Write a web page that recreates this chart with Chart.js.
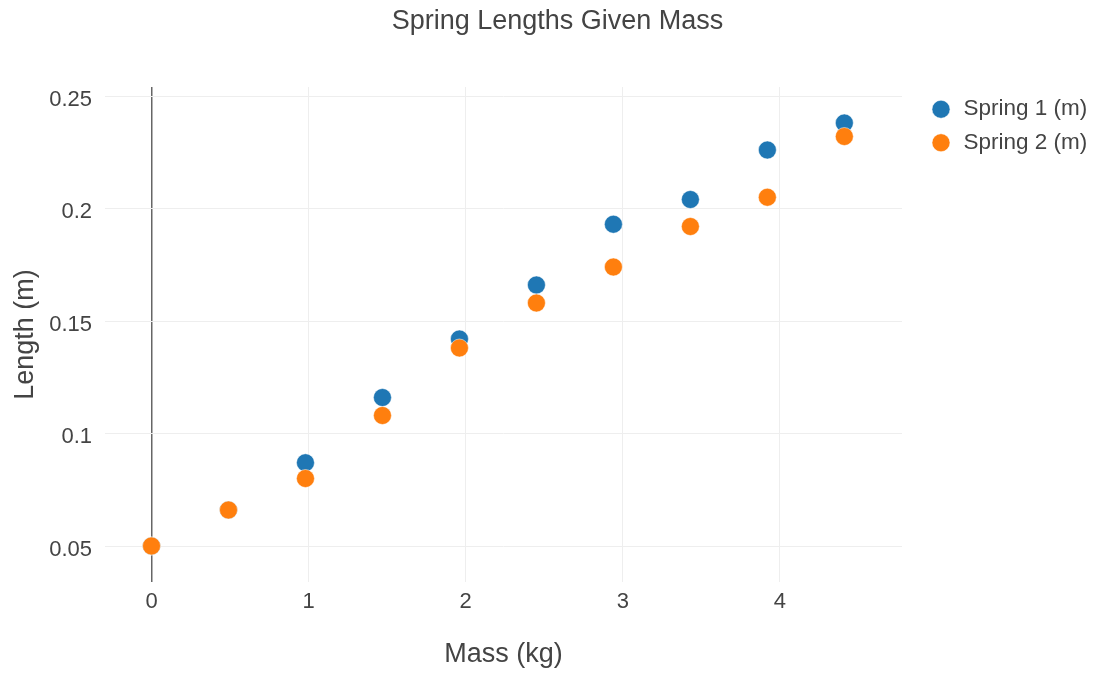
<!DOCTYPE html>
<html>
<head>
<meta charset="utf-8">
<title>Spring Lengths Given Mass</title>
<script src="https://cdn.jsdelivr.net/npm/chart.js@4/dist/chart.umd.min.js"></script>
<style>
  html, body { margin: 0; padding: 0; background: #fff; }
  canvas { display: block; }
</style>
</head>
<body>
<canvas id="springs" width="1095" height="675"></canvas>
<script>
// mass (kg) and the two measured lengths (m)
const masses = [0, 0.49, 0.98, 1.47, 1.96, 2.45, 2.94, 3.43, 3.92, 4.41]
const spring1 = [0.05, 0.066, 0.087, 0.116, 0.142, 0.166, 0.193, 0.204, 0.226, 0.238]
const spring2 = [0.05, 0.066, 0.080, 0.108, 0.138, 0.158, 0.174, 0.192, 0.205, 0.232]
const seriesNames = ['Spring 1 (m)', 'Spring 2 (m)']
const seriesColors = ['#1f77b4', '#ff7f0e']

const textColor = '#444'
Chart.defaults.font.family = "'Liberation Sans', Arial, sans-serif"
Chart.defaults.color = textColor

const toPoints = (ys) => masses.map((m, i) => ({ x: m, y: ys[i] }))

// legend sits a bit away from the plot, fixed width like the original
const legendWidth = {
  id: 'legendWidth',
  beforeInit(chart) {
    const fit = chart.legend.fit
    chart.legend.fit = function () {
      fit.call(this)
      this.width = 176.25
    }
  }
}

const ctx = document.querySelector('#springs')
const springChart = new Chart(ctx, {
  type: 'scatter',
  data: {
    datasets: [
      {
        label: seriesNames[0],
        data: toPoints(spring1),
        backgroundColor: seriesColors[0],
        borderColor: '#fff',
        borderWidth: 0.5,
        pointRadius: 9,
        pointHoverRadius: 9,
        order: 1
      },
      {
        label: seriesNames[1],
        data: toPoints(spring2),
        backgroundColor: seriesColors[1],
        borderColor: '#fff',
        borderWidth: 0.5,
        pointRadius: 9,
        pointHoverRadius: 9,
        order: 0
      }
    ]
  },
  options: {
    responsive: false,
    devicePixelRatio: 1,
    animation: false,
    layout: { padding: { left: 20, right: 0, top: 0, bottom: 0 } },
    plugins: {
      title: {
        display: true,
        text: 'Spring Lengths Given Mass',
        color: textColor,
        font: { size: 27, weight: 'normal' },
        padding: { top: 5, bottom: 49.6 }
      },
      legend: {
        position: 'right',
        align: 'start',
        fullSize: false,
        labels: {
          usePointStyle: true,
          pointStyle: 'circle',
          boxHeight: 12.73,
          padding: 11,
          color: textColor,
          font: { size: 22.5 },
          sort: (a, b) => a.datasetIndex - b.datasetIndex
        }
      },
      tooltip: { enabled: false }
    },
    scales: {
      x: {
        type: 'linear',
        position: 'bottom',
        min: -0.296,
        max: 4.777,
        border: { display: false },
        grid: {
          drawTicks: false,
          color: (c) => (c.tick && c.tick.value === 0 ? '#666' : '#eee'),
          lineWidth: (c) => (c.tick && c.tick.value === 0 ? 1.5 : 1)
        },
        ticks: {
          stepSize: 1,
          includeBounds: false,
          maxRotation: 0,
          padding: 7,
          color: textColor,
          font: { size: 22 }
        },
        title: {
          display: true,
          text: 'Mass (kg)',
          color: textColor,
          font: { size: 27 },
          padding: { top: 4, bottom: 4 }
        },
        afterFit: (scale) => { scale.height = 93 }
      },
      y: {
        type: 'linear',
        position: 'left',
        min: 0.034,
        max: 0.254,
        border: { display: false },
        grid: { drawTicks: false, color: '#eee', lineWidth: 1 },
        ticks: {
          stepSize: 0.05,
          includeBounds: false,
          padding: 13,
          labelOffset: 3.5,
          color: textColor,
          font: { size: 22 },
          callback: (v) => String(Number(v.toFixed(2)))
        },
        title: {
          display: true,
          text: 'Length (m)',
          color: textColor,
          font: { size: 27 },
          padding: { top: -11, bottom: 0 }
        },
        afterFit: (scale) => { scale.width = 85 }
      },
      gap: {
        type: 'linear',
        position: 'right',
        border: { display: false },
        grid: { display: false, drawTicks: false },
        ticks: { display: false },
        afterFit: (scale) => { scale.width = 16.75 }
      }
    }
  },
  plugins: [legendWidth]
})
</script>
</body>
</html>
